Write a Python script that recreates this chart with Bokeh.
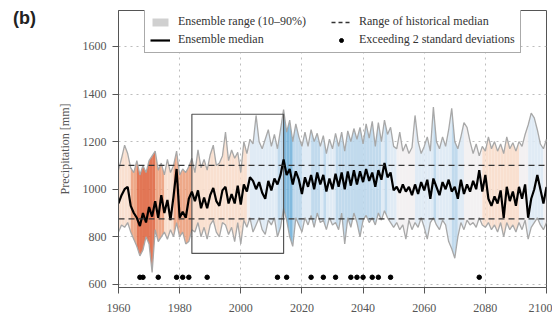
from bokeh.plotting import figure
from bokeh.layouts import row
from bokeh.models import Legend, LegendItem, Span, Div, FixedTicker
from bokeh.embed import file_html
from bokeh.resources import INLINE

# ---------------- data ----------------
years = list(range(1960, 2101))

median = [
    940, 975, 1000, 1010, 930, 900, 880, 845, 900, 860,   # 1960-1969
    925, 885, 950, 880, 975, 900, 955, 870, 970, 1085,    # 1970-1979
    880, 905, 880, 960, 990, 950, 995, 920, 965, 920,     # 1980-1989
    975, 1005, 950, 930, 995, 1010, 940, 980, 940, 1015,  # 1990-1999
    935, 1020, 990, 1050, 1035, 1000, 1030, 985, 960, 1035,  # 2000-2009
    995, 1045, 1020, 1060, 1125, 1060, 1085, 1020, 1075, 1040,  # 2010-2019
    980, 1050, 1010, 1060, 1000, 1070, 1020, 1060, 990, 1045,   # 2020-2029
    1000, 1065, 1010, 1070, 1000, 1075, 1015, 1080, 1020, 1075,  # 2030-2039
    1030, 1085, 1035, 1070, 1010, 1080, 1040, 1110, 1050, 1070,  # 2040-2049
    995, 1010, 985, 1020, 990, 1010, 975, 1020, 980, 1030,       # 2050-2059
    995, 1040, 960, 1045, 1010, 975, 1030, 1000, 1040, 990,      # 2060-2069
    1010, 960, 1040, 980, 1020, 990, 1035, 1000, 1080, 990,      # 2070-2079
    1060, 960, 930, 970, 940, 995, 880, 1010, 950, 990,          # 2080-2089
    930, 1010, 960, 1020, 880, 960, 1000, 1060, 1000, 940,       # 2090-2099
    1010,                                                        # 2100
]

p10 = [
    820, 850, 840, 860, 820, 790, 760, 720, 745, 800,
    770, 650, 830, 780, 800, 820, 790, 830, 800, 860,
    800, 820, 770, 780, 830, 820, 860, 800, 840, 790,
    850, 870, 820, 800, 860, 850, 810, 840, 780, 860,
    770, 870, 840, 880, 820, 850, 880, 830, 810, 870,
    850, 880, 800, 840, 920, 870, 800, 760, 880, 850,
    820, 880, 850, 890, 840, 900, 860, 870, 830, 880,
    850, 860, 830, 900, 770, 880, 840, 900, 860, 800,
    870, 890, 860, 880, 850, 900, 870, 910, 880, 860,
    840, 860, 830, 850, 790, 870, 830, 860, 840, 880,
    840, 790, 860, 880, 850, 830, 870, 850, 780, 750,
    710, 800, 860, 830, 870, 850, 860, 840, 880, 850,
    840, 860, 830, 850, 820, 860, 800, 860, 830, 850,
    820, 860, 830, 870, 790, 840, 860, 880, 850, 830,
    860,
]

p90 = [
    1080, 1130, 1185, 1150, 1090, 1070, 1120, 1060, 1100, 1070,
    1120, 1140, 1160, 1080, 1110, 1060, 1125, 1070, 1100, 1160,
    1060, 1085, 1070, 1095, 1130, 1070, 1165, 1090, 1125, 1080,
    1145, 1185, 1100, 1110, 1140, 1240, 1120, 1165, 1130, 1155,
    1070, 1200, 1150, 1210, 1190, 1310, 1200, 1170, 1210, 1250,
    1180, 1230, 1170, 1250, 1335, 1240, 1290, 1200, 1275, 1220,
    1180, 1240, 1180, 1250, 1200, 1235, 1180, 1225, 1150, 1210,
    1170, 1235, 1180, 1240, 1160, 1245, 1200, 1255, 1210, 1260,
    1190, 1275, 1215, 1285, 1180, 1280, 1200, 1290, 1230, 1260,
    1180, 1170, 1240, 1160, 1190, 1150, 1175, 1310, 1200, 1150,
    1180, 1220, 1160, 1345, 1200, 1170, 1220, 1180, 1250, 1340,
    1200, 1170, 1220, 1280, 1260, 1200, 1150, 1190, 1140, 1180,
    1160, 1220, 1170, 1200, 1160, 1190, 1150, 1220, 1170, 1195,
    1160, 1200, 1180, 1230, 1270, 1320, 1300, 1250, 1190, 1170,
    1210,
]

# signed anomaly class of each year's ensemble band (-3 dry ... +3 wet)
shade = [
    -1, -1, -1, -1, -2, -2, -3, -3, -3, -3,
    -3, -3, -2, -2, -2, -1, -1, -1, -2, -2,
    -2, -2, -2, -2, -1, -1, -1, -1, -1, -1,
    -1, -1, -1, -1, -1, -1, -1, -1, -1, -1,
    -1, -1, 0, 1, 1, 1, 1, 1, 1, 1,
    1, 1, 2, 2, 3, 3, 3, 2, 2, 2,
    1, 1, 1, 2, 2, 2, 1, 2, 1, 1,
    1, 2, 2, 2, 2, 2, 2, 2, 2, 2,
    2, 2, 2, 2, 2, 2, 1, 2, 1, 1,
    1, 0, 0, 0, 0, 0, 0, 1, 1, 1,
    1, 1, 1, 2, 1, 1, 1, 1, 1, 2,
    2, 1, 1, 0, 0, 0, 0, 0, 0, -1,
    -1, -1, -1, -1, -1, -1, -1, -1, -1, -1,
    -1, 0, 0, 0, 1, 1, 1, 1, 1, 0,
    0,
]

hist_median_range = [875, 1100]          # range of historical median
ref_period = [1984, 2014]                # highlighted reference window
ref_box_range = [730, 1315]
exceed_years = [1967, 1968, 1973, 1979, 1981, 1983, 1989, 2012, 2015, 2023,
                2027, 2031, 2036, 2038, 2040, 2043, 2045, 2049, 2078]
exceed_level = 630

palette = {-3: "#df6742", -2: "#eca07c", -1: "#f8ddcb", 0: "#f2eff1",
           1: "#dde9f4", 2: "#bad6eb", 3: "#74b2da"}

SERIF = "Liberation Serif"
NAN = float("nan")
TAG_W = 48

# ---------------- figure ----------------
p = figure(width=552 - TAG_W, height=328, output_backend="svg", toolbar_location=None,
           x_range=(1960, 2100), y_range=(587, 1751),
           min_border_left=118 - TAG_W, min_border_right=6, min_border_top=10,
           min_border_bottom=41)
p.background_fill_color = "white"
p.border_fill_color = "white"
p.outline_line_color = "#555555"
p.outline_line_width = 1

# band segments coloured per year
xs, ys, cols = [], [], []
for i in range(len(years) - 1):
    xs.append([years[i], years[i + 1], years[i + 1], years[i]])
    ys.append([p10[i], p10[i + 1], p90[i + 1], p90[i]])
    cols.append(palette[shade[i]])
p.patches(xs, ys, fill_color=cols, fill_alpha=0.9, line_color=None)

# percentile outlines
p.line(years, p10, line_color="#a8a8a8", line_width=1.3)
p.line(years, p90, line_color="#a8a8a8", line_width=1.3)

# historical median range
for v in hist_median_range:
    p.add_layout(Span(location=v, dimension="width", line_color="#333333",
                      line_dash="6 4", line_width=1.3))

# reference-period box
p.quad(left=[ref_period[0]], right=[ref_period[1]], bottom=[ref_box_range[0]],
       top=[ref_box_range[1]], fill_color=None, line_color="#555555", line_width=1.2)

# median
p.line(years, median, line_color="black", line_width=2.2)

# exceedance dots
p.scatter(exceed_years, [exceed_level] * len(exceed_years), size=4.5,
          fill_color="black", line_color="black")

# ---------------- axes ----------------
p.xaxis.ticker = FixedTicker(ticks=list(range(1960, 2101, 20)))
p.yaxis.ticker = FixedTicker(ticks=list(range(600, 1601, 200)))
for ax in (p.xaxis, p.yaxis):
    ax.major_label_text_font = SERIF
    ax.major_label_text_font_size = "12px"
    ax.major_label_text_color = "#555555"
    ax.axis_line_color = "#555555"
    ax.major_tick_line_color = "#555555"
    ax.major_tick_in = 0
    ax.major_tick_out = 6
    ax.minor_tick_line_color = None
p.xaxis.major_label_standoff = 10
p.yaxis.major_label_standoff = 6
p.yaxis.axis_label = "Precipitation [mm]"
p.yaxis.axis_label_text_font = SERIF
p.yaxis.axis_label_text_font_size = "12px"
p.yaxis.axis_label_text_font_style = "normal"
p.yaxis.axis_label_text_color = "#555555"
p.yaxis.axis_label_standoff = 8

p.xgrid.grid_line_color = "#bdbdbd"
p.ygrid.grid_line_color = "#bdbdbd"
p.xgrid.grid_line_dash = "dotted"
p.ygrid.grid_line_dash = "dotted"

# ---------------- legend ----------------
r_range = p.quad(left=[NAN], right=[NAN], top=[NAN], bottom=[NAN],
                 fill_color="#d0d0d0", line_color=None)
r_med = p.line([NAN], [NAN], line_color="black", line_width=2.2)
r_hist = p.line([NAN], [NAN], line_color="#333333", line_dash="4 3", line_width=1.3)
r_exc = p.scatter([NAN], [NAN], size=4.5, fill_color="black", line_color="black")

legend = Legend(items=[
    LegendItem(label="Ensemble range (10\u201390%)", renderers=[r_range]),
    LegendItem(label="Ensemble median", renderers=[r_med]),
    LegendItem(label="Range of historical median", renderers=[r_hist]),
    LegendItem(label="Exceeding 2 standard deviations", renderers=[r_exc]),
], nrows=2, location=(26, 234))
legend.label_text_font = SERIF
legend.label_text_font_size = "12px"
legend.label_text_color = "#333333"
legend.label_width = 150
legend.glyph_width = 20
legend.glyph_height = 10
legend.label_standoff = 8
legend.spacing = 3
legend.padding = 5
legend.margin = 0
legend.border_line_color = "#555555"
legend.border_line_width = 1
legend.background_fill_alpha = 1
p.add_layout(legend, "center")

# panel tag in a narrow column left of the figure
tag = Div(text=("<div style=\"padding:6px 0 0 13px; font-family:'Liberation Sans';"
                "font-weight:bold; font-size:18px; color:#222222;\">(b)</div>"),
          width=TAG_W, height=40, margin=(0, 0, 0, 0))

layout = row(tag, p, spacing=0)
open("out.html", "w").write(file_html(layout, INLINE))
